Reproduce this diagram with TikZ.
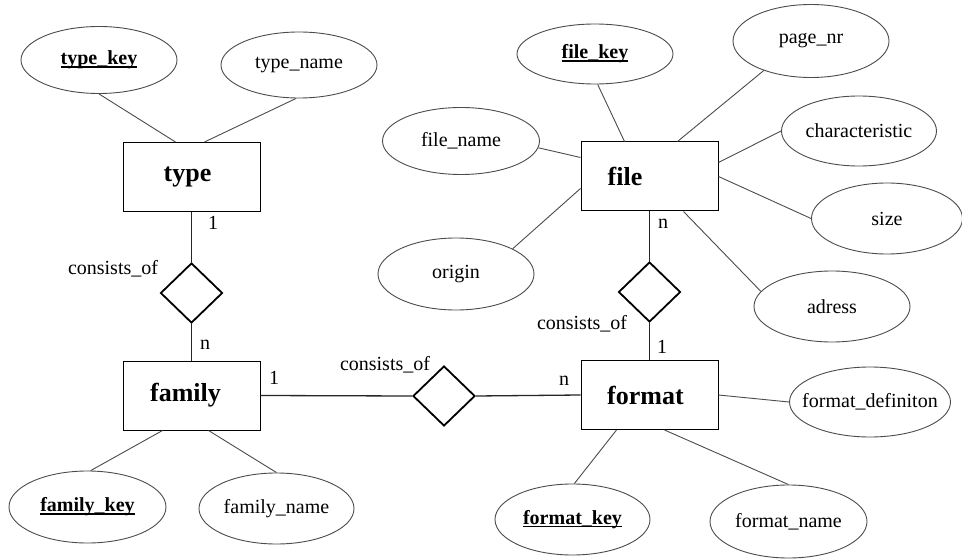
\documentclass[tikz,border=0pt]{standalone}
\usepackage{fontspec}
\setmainfont{Liberation Serif}
\usetikzlibrary{shapes.geometric}
\newcommand\ulkey[1]{\setbox0\hbox{#1}\rlap{\rule[-3pt]{\wd0}{1.6pt}}\box0}
\newcommand\mb[1]{\makebox[0pt][c]{#1}}
\begin{document}
\begin{tikzpicture}[x=1pt,y=-1pt,
  entity/.style={draw=black,line width=1pt,minimum width=137pt,minimum height=69pt,inner sep=0pt,font=\fontsize{26}{26}\selectfont\bfseries},
  attr/.style={ellipse,draw=black!70,line width=0.9pt,inner sep=0pt,font=\fontsize{20}{20}\selectfont},
  rel/.style={diamond,draw=black,line width=1.8pt,minimum width=62pt,minimum height=60pt,inner sep=0pt},
  aline/.style={draw=black!70,line width=0.9pt},
  rline/.style={draw=black!85,line width=1.3pt},
  lbl/.style={font=\fontsize{20}{20}\selectfont,inner sep=0pt}]
\fill[white] (0,0) rectangle (962,559);
\useasboundingbox (0,0) rectangle (962,559);

% entities
\node[entity] (type) at (191.5,177) {\mb{type\hspace{8pt}}};
\node[entity] (file) at (649.5,176.5) {\mb{file\hspace{49pt}}};
\node[entity] (family) at (191.5,395.5) {\mb{family\hspace{12pt}}};
\node[entity] (format) at (649.5,395) {\mb{format\hspace{8pt}}};

% relationships
\node[rel] (d1) at (191.5,293) {};
\node[rel] (d2) at (649.5,292) {};
\node[rel] (d3) at (444,396) {};

% attributes
\node[attr,minimum width=156pt,minimum height=67pt] (typekey) at (99,60) {\mb{\bfseries\ulkey{type\_key}}};
\node[attr,minimum width=156pt,minimum height=66pt] (typename) at (299,65) {\mb{type\_name}};
\node[attr,minimum width=156pt,minimum height=60pt] (filekey) at (595,54) {\mb{\bfseries\ulkey{file\_key}}};
\node[attr,minimum width=156pt,minimum height=73pt] (pagenr) at (811,41) {\mb{page\_nr}};
\node[attr,minimum width=157pt,minimum height=67pt] (filename) at (461,141) {\mb{file\_name}};
\node[attr,minimum width=156pt,minimum height=72pt] (origin) at (456,274) {\mb{origin}};
\node[attr,minimum width=155pt,minimum height=70pt] (charac) at (859,131) {\mb{characteristic}};
\node[attr,minimum width=151pt,minimum height=71pt] (size) at (887,218.5) {\mb{size}};
\node[attr,minimum width=156pt,minimum height=71pt] (adress) at (832,306.5) {\mb{adress}};
\node[attr,minimum width=161pt,minimum height=70pt] (formatdef) at (870,402) {\mb{format\_definiton}};
\node[attr,minimum width=157pt,minimum height=72pt] (familykey) at (87.5,507) {\mb{\bfseries\ulkey{family\_key}}};
\node[attr,minimum width=155pt,minimum height=71pt] (familyname) at (276.5,508.5) {\mb{family\_name}};
\node[attr,minimum width=155pt,minimum height=71pt] (formatkey) at (572.5,519.5) {\mb{\bfseries\ulkey{format\_key}}};
\node[attr,minimum width=157pt,minimum height=73pt] (formatname) at (788.5,521.5) {\mb{format\_name}};

% relationship connectors
\draw[rline] (type.south) -- (d1.north);
\draw[rline] (d1.south) -- (family.north);
\draw[rline] (family.east) -- (d3.west);
\draw[rline] (d3.east) -- (format.west);
\draw[rline] (format.north) -- (d2.south);
\draw[rline] (d2.north) -- (file.south);

% attribute connectors
\draw[aline] (typekey.south) -- ([xshift=-16pt]type.north);
\draw[aline] (typename.-95) -- ([xshift=13pt]type.north);
\draw[aline] (filekey.-85) -- ([xshift=-25pt]file.north);
\draw[aline] (pagenr.-148) -- ([xshift=28pt]file.north);
\draw[aline] (filename.-5) -- ([yshift=19pt]file.west);
\draw[aline] (origin.24) -- ([yshift=-12pt]file.west);
\draw[aline] (charac.west) -- ([yshift=14pt]file.east);
\draw[aline] (size.west) -- (file.east);
\draw[aline] (adress.168) -- ([xshift=34pt]file.south);
\draw[aline] (formatdef.west) -- (format.east);
\draw[aline] (formatkey.87) -- ([xshift=-33pt]format.south);
\draw[aline] (formatname.north) -- ([xshift=15pt]format.south);
\draw[aline] (familykey.85) -- ([xshift=-29pt]family.south);
\draw[aline] (familyname.north) -- ([xshift=17pt]family.south);

% labels
\node[lbl] (c1) at (213,223) {1};
\node[lbl] (c2) at (113,269) {consists\_of};
\node[lbl] (c3) at (205,345) {n};
\node[lbl] (c4) at (274,378) {1};
\node[lbl] (c5) at (385,365) {consists\_of};
\node[lbl] (c6) at (564,381) {n};
\node[lbl] (c7) at (582,324) {consists\_of};
\node[lbl] (c8) at (662,347) {1};
\node[lbl] (c9) at (663,224) {n};
\end{tikzpicture}
\end{document}
